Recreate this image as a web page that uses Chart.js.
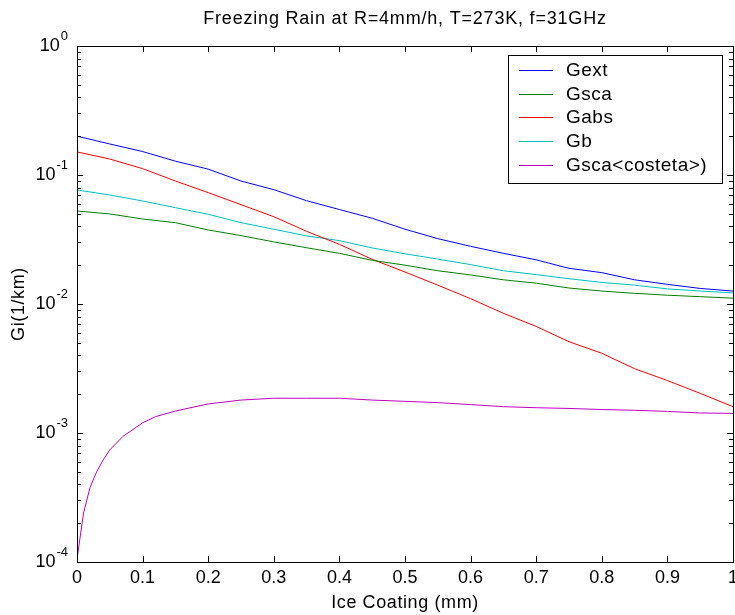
<!DOCTYPE html>
<html>
<head>
<meta charset="utf-8">
<script src="https://cdn.jsdelivr.net/npm/chart.js@4/dist/chart.umd.min.js"></script>
<style>
  html, body { margin: 0; padding: 0; background: #fff; }
  #wrap { width: 735px; height: 615px; }
</style>
</head>
<body>
<div id="wrap"><canvas id="iceChart"></canvas></div>
<script>
// ice coating thickness (mm)
var coating = [0, 0.05, 0.1, 0.15, 0.2, 0.25, 0.3, 0.35, 0.4, 0.45, 0.5,
               0.55, 0.6, 0.65, 0.7, 0.75, 0.8, 0.85, 0.9, 0.95, 1.0];
var gext = [0.200, 0.174, 0.152, 0.128, 0.111, 0.0898, 0.077, 0.0632, 0.054, 0.0462, 0.038,
            0.0321, 0.028, 0.0247, 0.022, 0.0189, 0.0175, 0.0154, 0.0142, 0.0132, 0.0126];
var gsca = [0.0526, 0.0499, 0.0456, 0.0427, 0.0375, 0.0339, 0.0303, 0.0273, 0.0247, 0.0218, 0.0200,
            0.0181, 0.0168, 0.0154, 0.0145, 0.0133, 0.0126, 0.0121, 0.0117, 0.0114, 0.0111];
var gabs = [0.151, 0.133, 0.112, 0.0898, 0.073, 0.0589, 0.0475, 0.0366, 0.029, 0.0222, 0.0177,
            0.014, 0.011, 0.00847, 0.0067, 0.0051, 0.00415, 0.00315, 0.00255, 0.00203, 0.0016];
var gb = [0.0765, 0.070, 0.0629, 0.0558, 0.0496, 0.0427, 0.038, 0.0337, 0.031, 0.0272, 0.0245,
          0.0223, 0.0202, 0.0181, 0.0169, 0.0157, 0.0147, 0.014, 0.0131, 0.0126, 0.0122];
// Gsca<costeta> rises steeply near zero, so it is read on its own grid
var coatingCos = [0, 0.01, 0.02, 0.03, 0.04, 0.05, 0.07, 0.1, 0.12, 0.15, 0.2, 0.25, 0.3, 0.35,
                  0.4, 0.45, 0.5, 0.55, 0.6, 0.65, 0.7, 0.75, 0.8, 0.85, 0.9, 0.95, 1.0];
var gcos = [0.000105, 0.00024, 0.00038, 0.0005, 0.00062, 0.00074, 0.00094, 0.0012, 0.00134, 0.00148,
            0.00168, 0.0018, 0.00186, 0.00186, 0.00186, 0.0018, 0.00176, 0.00172, 0.00166, 0.0016,
            0.00157, 0.00155, 0.00152, 0.0015, 0.00147, 0.00143, 0.00142];

var seriesNames = ["Gext", "Gsca", "Gabs", "Gb", "Gsca<costeta>)"];
var seriesColors = ["#0000ff", "#008000", "#ff0000", "#00bfbf", "#bf00bf"];
var xTicks = [0, 0.1, 0.2, 0.3, 0.4, 0.5, 0.6, 0.7, 0.8, 0.9, 1];
var decades = [-4, -3, -2, -1, 0];

var chartTitle = "Freezing Rain at R=4mm/h, T=273K, f=31GHz";
var xTitle = "Ice Coating (mm)";
var yTitle = "Gi(1/km)";
var FONT = "Arial, 'Liberation Sans', sans-serif";

function pts(xs, ys) {
  var out = [];
  for (var i = 0; i < xs.length; i++) out.push({x: xs[i], y: ys[i]});
  return out;
}

var allY = [gext, gsca, gabs, gb, gcos];
var datasets = [];
for (var k = 0; k < 5; k++) {
  datasets.push({
    label: seriesNames[k],
    data: pts(k == 4 ? coatingCos : coating, allY[k]),
    borderColor: seriesColors[k],
    borderWidth: 1,
    pointRadius: 0,
    tension: 0,
    fill: false
  });
}

// MATLAB style: box, inward ticks, 10^n labels, legend in the corner
var matlabAxes = {
  id: "matlabAxes",
  afterDraw: function(chart) {
    var ctx = chart.ctx;
    var a = chart.chartArea;
    var xs = chart.scales.x, ys = chart.scales.y;
    ctx.save();
    ctx.strokeStyle = "#000";
    ctx.lineWidth = 1;
    ctx.strokeRect(Math.round(a.left) + 0.5, Math.round(a.top) + 0.5,
                   Math.round(a.right - a.left), Math.round(a.bottom - a.top));

    // x ticks
    ctx.beginPath();
    xTicks.forEach(function(v) {
      var px = Math.round(xs.getPixelForValue(v)) + 0.5;
      ctx.moveTo(px, a.bottom); ctx.lineTo(px, a.bottom - 6);
      ctx.moveTo(px, a.top); ctx.lineTo(px, a.top + 6);
    });
    // y ticks, major and minor
    decades.forEach(function(d) {
      for (var m = 1; m <= 9; m++) {
        if (d == 0 && m > 1) break;
        var py = Math.round(ys.getPixelForValue(m * Math.pow(10, d))) + 0.5;
        var len = m == 1 ? 6 : 4;
        ctx.moveTo(a.left, py); ctx.lineTo(a.left + len, py);
        ctx.moveTo(a.right, py); ctx.lineTo(a.right - len, py);
      }
    });
    ctx.stroke();

    ctx.fillStyle = "#000";
    // x tick labels
    ctx.font = "18px " + FONT;
    ctx.textAlign = "center";
    ctx.textBaseline = "middle";
    xTicks.forEach(function(v) {
      ctx.fillText(String(v), xs.getPixelForValue(v), a.bottom + 16);
    });
    // y tick labels 10^n
    decades.forEach(function(d) {
      var py = ys.getPixelForValue(Math.pow(10, d));
      var exp = String(d);
      ctx.font = "13px " + FONT;
      var ew = ctx.measureText(exp).width;
      ctx.textAlign = "right";
      ctx.fillText(exp, a.left - 9, py - 10);
      ctx.font = "18px " + FONT;
      ctx.fillText("10", a.left - 10 - ew, py);
    });

    // titles
    ctx.textAlign = "center";
    ctx.font = "18px " + FONT;
    ctx.letterSpacing = "0.8px";
    ctx.fillText(chartTitle, (a.left + a.right) / 2, 19);
    ctx.letterSpacing = "0.6px";
    ctx.fillText(xTitle, (a.left + a.right) / 2, 603);
    ctx.save();
    ctx.translate(19, (a.top + a.bottom) / 2);
    ctx.rotate(-Math.PI / 2);
    ctx.fillText(yTitle, 0, 0);
    ctx.restore();
    ctx.letterSpacing = "0px";

    // legend box
    var lx = 508, ly = 55, lw = 214, lh = 128;
    ctx.fillStyle = "#fff";
    ctx.fillRect(lx, ly, lw, lh);
    ctx.strokeStyle = "#000";
    ctx.strokeRect(lx + 0.5, ly + 0.5, lw, lh);
    ctx.font = "19px " + FONT;
    ctx.letterSpacing = "0.5px";
    ctx.textAlign = "left";
    for (var i = 0; i < seriesNames.length; i++) {
      var ry = Math.round(ly + 15 + i * 23.7) + 0.5;
      ctx.strokeStyle = seriesColors[i];
      ctx.beginPath();
      ctx.moveTo(519, ry); ctx.lineTo(553, ry);
      ctx.stroke();
      ctx.fillStyle = "#000";
      ctx.fillText(seriesNames[i], 566, ry);
    }
    ctx.restore();
  }
};

new Chart(document.getElementById("iceChart"), {
  type: "line",
  data: { datasets: datasets },
  options: {
    responsive: true,
    maintainAspectRatio: false,
    animation: false,
    layout: { padding: { top: 46, right: 2, left: 0, bottom: 0 } },
    plugins: { legend: { display: false }, tooltip: { enabled: false } },
    scales: {
      x: {
        type: "linear", min: 0, max: 1,
        grid: { display: false }, border: { display: false },
        ticks: { display: false },
        afterFit: function(s) { s.height = 53; }
      },
      y: {
        type: "logarithmic", min: 0.0001, max: 1,
        grid: { display: false }, border: { display: false },
        ticks: { display: false },
        afterFit: function(s) { s.width = 77; }
      }
    }
  },
  plugins: [matlabAxes]
});
</script>
</body>
</html>
